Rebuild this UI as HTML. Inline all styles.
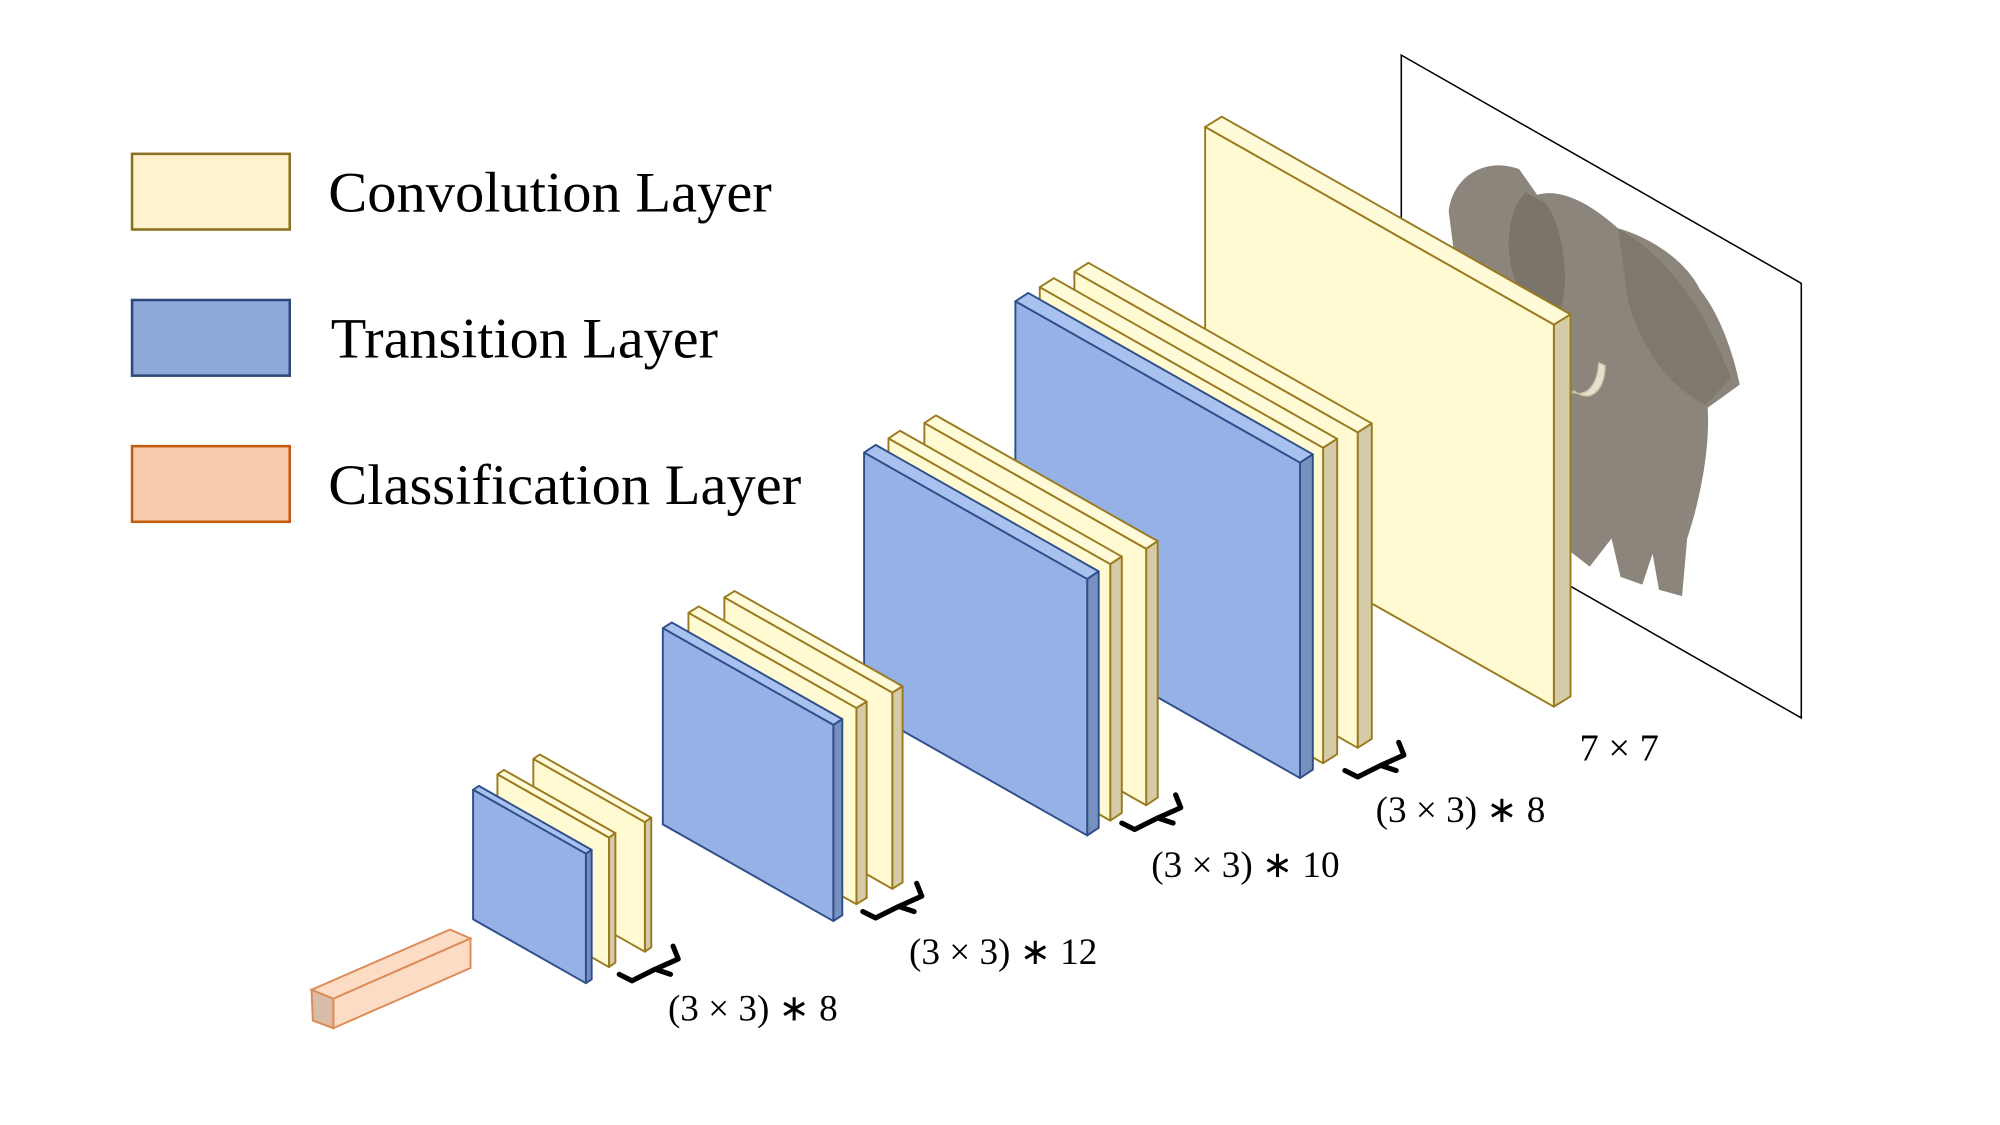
<!DOCTYPE html>
<html><head><meta charset="utf-8"><style>
html,body{margin:0;padding:0;background:#fff}
svg{display:block}
text{font-family:"Liberation Serif",serif;fill:#000}
</style></head><body>
<svg id="s" width="2000" height="1125" viewBox="0 0 1560 877.5" xmlns="http://www.w3.org/2000/svg">
<rect width="1560" height="877.5" fill="#fff"/>
<!-- legend -->
<rect x="103" y="120" width="123" height="59" fill="#fff2cc" stroke="#8a7020" stroke-width="2"/>
<rect x="103" y="234" width="123" height="59" fill="#8eaadb" stroke="#2f4a7a" stroke-width="2"/>
<rect x="103" y="348" width="123" height="59" fill="#f8cbad" stroke="#c55a11" stroke-width="2"/>
<text x="256" y="165" font-size="45" textLength="346" lengthAdjust="spacingAndGlyphs">Convolution Layer</text>
<text x="258" y="279" font-size="45" textLength="302" lengthAdjust="spacingAndGlyphs">Transition Layer</text>
<text x="256" y="393" font-size="45" textLength="369" lengthAdjust="spacingAndGlyphs">Classification Layer</text>
<!-- image frame -->
<polygon points="1093,43 1405,221 1405,560 1093,382" fill="#fff" stroke="#000" stroke-width="1.2"/>
<!-- elephant -->
<path d="M1130,165 C1133,138 1158,122 1185,132 L1199,152 C1218,146 1242,160 1262,178 C1290,186 1316,205 1326,226 C1342,246 1352,276 1357,300 L1332,318 C1334,350 1326,390 1316,420 L1312,465 L1294,460 L1289,432 L1281,456 L1264,450 L1257,420 L1240,442 L1222,428 L1224,262 C1198,232 1160,216 1134,196 Z" fill="#8b857c"/>
<path d="M1190,150 C1175,165 1172,200 1185,225 L1215,245 C1225,230 1222,180 1205,158 Z" fill="#7a746b"/>
<path d="M1262,178 C1300,200 1330,240 1350,295 L1330,316 C1300,300 1280,270 1270,235 Z" fill="#7e786f"/>
<path d="M1228,305 C1240,315 1252,305 1252,285 L1247,283 C1246,300 1238,310 1226,306 Z" fill="#e8e0cc" stroke="#c8bea6" stroke-width="1"/>
<g id="g"></g>
<!-- classification bar -->
<polygon points="243,772 351,725 367,732 260,779" fill="#fddcc6" stroke="#dd8a55" stroke-width="1.5"/>
<polygon points="260,779 367,732 367,755 260,802" fill="#fddcc6" stroke="#dd8a55" stroke-width="1.5"/>
<polygon points="243,772 260,779 260,802 244,796" fill="#d9bca8" stroke="#dd8a55" stroke-width="1.5"/>
<!-- labels -->
<text x="521" y="796" font-size="29">(3 × 3) ∗ 8</text>
<text x="709" y="752" font-size="29">(3 × 3) ∗ 12</text>
<text x="898" y="684" font-size="29">(3 × 3) ∗ 10</text>
<text x="1073" y="641" font-size="29">(3 × 3) ∗ 8</text>
<text x="1232" y="593" font-size="30">7 × 7</text>
</svg>
<script>
var NS="http://www.w3.org/2000/svg",g=document.getElementById('g'),s=0.567;
function poly(p,f,st,w){var e=document.createElementNS(NS,'polygon');e.setAttribute('points',p.map(function(a){return a.join(',')}).join(' '));e.setAttribute('fill',f);e.setAttribute('stroke',st);e.setAttribute('stroke-width',w||1.5);e.setAttribute('stroke-linejoin','round');g.appendChild(e);}
function slab(x,y,w,h,dx,dy,t){
 var c=t=='b'?['#95b1e6','#a9c1ef','#7690c0','#2f4f8a']:['#fffad2','#fffbd8','#d6cba8','#9a7a1e'];
 var sw=s*w;
 poly([[x,y],[x+dx,y-dy],[x+w+dx,y+sw-dy],[x+w,y+sw]],c[1],c[3]);
 poly([[x+w,y+sw],[x+w+dx,y+sw-dy],[x+w+dx,y+sw+h-dy],[x+w,y+sw+h]],c[2],c[3]);
 poly([[x,y],[x+w,y+sw],[x+w,y+sw+h],[x,y+h]],c[0],c[3]);
}
function brace(x,y){var e=document.createElementNS(NS,'path');
 e.setAttribute('d','M'+x+','+y+' L'+(x+10)+','+(y+5)+' L'+(x+28)+','+(y-4)+' L'+(x+40)+','+y+' M'+(x+28)+','+(y-4)+' L'+(x+46)+','+(y-12)+' L'+(x+42)+','+(y-22));
 e.setAttribute('fill','none');e.setAttribute('stroke','#000');e.setAttribute('stroke-width','4');e.setAttribute('stroke-linecap','round');e.setAttribute('stroke-linejoin','round');g.appendChild(e);}
// big conv
slab(940,99,272,298,13,8,'y');
// stack4
slab(838,212,221,246,11,7,'y');
slab(811,224,221,246,11,7,'y');
slab(792,235,222,246,10,6.5,'b');
// stack3
slab(721,330,173,200,9,6,'y');
slab(693,342,173,200,9,6,'y');
slab(674,353,174,200,9,6,'b');
// stack2
slab(565,466,131,153,8,5,'y');
slab(537,478,131,153,8,5,'y');
slab(517,490,133,153,7,4.5,'b');
// stack1
slab(416,592,87,101,5,3.5,'y');
slab(388,604,87,101,5,3.5,'y');
slab(369,616,88,101,4.5,3,'b');
brace(483,760);brace(673,711);brace(875,642);brace(1049,601);
</script>
</body></html>
